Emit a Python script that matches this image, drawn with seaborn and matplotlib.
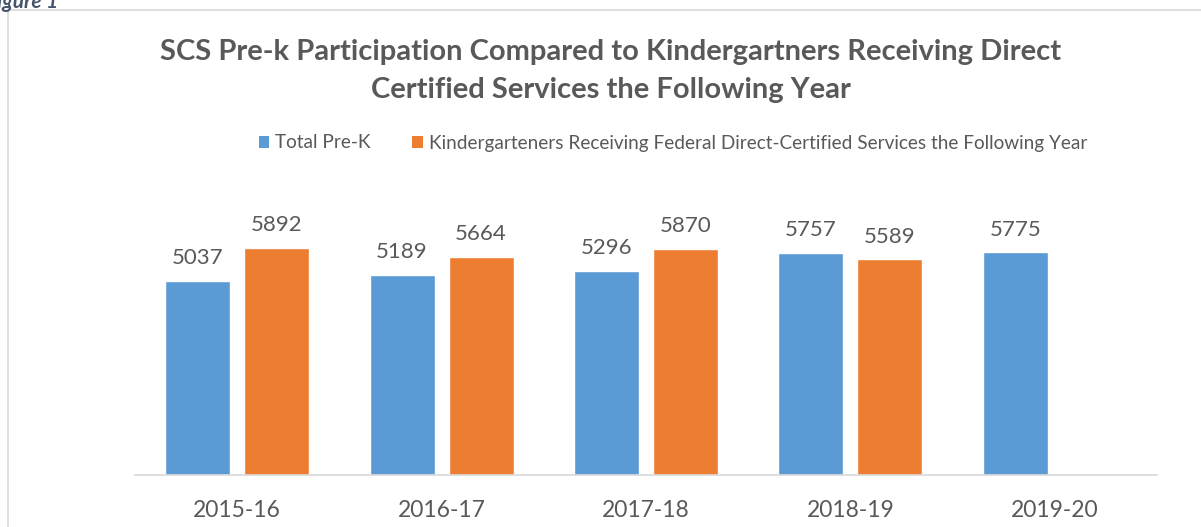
import matplotlib
matplotlib.use("Agg")
import matplotlib.pyplot as plt
import seaborn as sns
import pandas as pd
import numpy as np
from matplotlib.lines import Line2D
from matplotlib.patches import Patch

years = ["2015-16", "2016-17", "2017-18", "2018-19", "2019-20"]
total_prek = [5037, 5189, 5296, 5757, 5775]
kinder_dc = [5892, 5664, 5870, 5589, np.nan]
series_names = ["Total Pre-K",
                "Kindergarteners Receiving Federal Direct-Certified Services the Following Year"]
colors = ["#5B9BD5", "#ED7D31"]

df = pd.DataFrame({
    "year": years * 2,
    "value": total_prek + kinder_dc,
    "series": [series_names[0]] * len(years) + [series_names[1]] * len(years),
})

sns.set_theme(style="white")
plt.rcParams["font.family"] = ["Lato", "DejaVu Sans"]
txt = "#595959"

W, H = 1201, 527
fig = plt.figure(figsize=(W / 100, H / 100), dpi=100)
ax = fig.add_axes([135 / W, 1 - 475 / H, (1157 - 135) / W, (475 - 205) / H])

sns.barplot(data=df, x="year", y="value", hue="series", order=years,
            hue_order=series_names, palette=colors, width=0.773, gap=0.177,
            saturation=1, ax=ax, legend=False)

ax.set_ylim(0, 7000)
ax.set_xlim(-0.5, len(years) - 0.5)
for c in ax.containers:
    labels = ["" if (v is None or np.isnan(v)) else f"{int(round(v))}" for v in c.datavalues]
    ax.bar_label(c, labels=labels, padding=9, fontsize=16, color=txt)

for s in ["top", "right", "left"]:
    ax.spines[s].set_visible(False)
ax.spines["bottom"].set_color("#D9D9D9")
ax.spines["bottom"].set_linewidth(1.2)
ax.set_yticks([])
ax.set_xlabel("")
ax.set_ylabel("")
ax.tick_params(axis="x", length=0, labelsize=16.5, colors=txt, pad=18)

fig.text(611 / W, 1 - 52 / H, "SCS Pre-k Participation Compared to Kindergartners Receiving Direct",
         ha="center", va="center", fontsize=21, fontweight="bold", color=txt)
fig.text(611 / W, 1 - 90 / H, "Certified Services the Following Year",
         ha="center", va="center", fontsize=21, fontweight="bold", color=txt)

handles = [Patch(facecolor=colors[0], edgecolor="none"),
           Patch(facecolor=colors[1], edgecolor="none")]
fig.legend(handles, series_names, loc="center", bbox_to_anchor=(673 / W, 1 - 143 / H),
           ncol=2, frameon=False, fontsize=13.7, labelcolor=txt,
           handlelength=0.55, handleheight=0.55, handletextpad=0.3, columnspacing=2.2)

# frame lines
fig.add_artist(Line2D([8 / W, 1], [1 - 10 / H, 1 - 10 / H], color="#D9D9D9", lw=1.2))
fig.add_artist(Line2D([8 / W, 8 / W], [0, 1 - 10 / H], color="#D9D9D9", lw=1.2))
fig.text(-14 / W, 1 - 2 / H, "Figure 1", ha="left", va="center", fontsize=15,
         style="italic", fontweight="bold", color="#44546A")

fig.savefig("out.png", dpi=100)
